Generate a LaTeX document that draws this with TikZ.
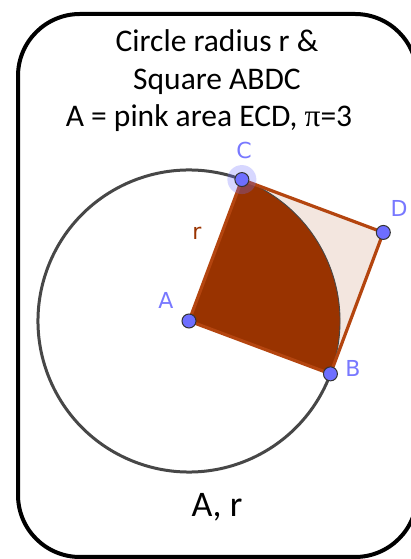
\documentclass[tikz,border=0pt]{standalone}
\usepackage{fontspec}
\setmainfont{Carlito}
\newfontfamily\lblfont{DejaVu Sans}
\newfontfamily\pifont{Liberation Serif}
\usetikzlibrary{calc}
\definecolor{darkfill}{HTML}{993300}
\definecolor{lightfill}{HTML}{F3E6DF}
\definecolor{edgec}{HTML}{B4450F}
\definecolor{ptblue}{HTML}{6E6EFF}
\definecolor{lblblue}{HTML}{7878FF}
\definecolor{circgray}{HTML}{474747}
\begin{document}
\begin{tikzpicture}[x=1pt,y=1pt,
  frame/.style={draw=black, line width=4pt, rounded corners=62pt},
  titletext/.style={font=\fontsize{31.5}{37}\selectfont, anchor=base, inner sep=0pt},
  bottomtext/.style={font=\fontsize{36}{40}\selectfont, anchor=base, inner sep=0pt},
  pt/.style={circle, fill=ptblue, draw=black!80, line width=1pt, inner sep=0pt, minimum size=14pt},
  halo/.style={circle, fill=ptblue, fill opacity=0.28, draw=none, inner sep=0pt, minimum size=29pt},
  lbl/.style={font=\lblfont\fontsize{22}{26}\selectfont, text=lblblue, inner sep=0pt},
  rlbl/.style={font=\lblfont\fontsize{22}{26}\selectfont, text=darkfill, inner sep=0pt},
  circline/.style={draw=circgray, line width=3pt},
  arcline/.style={draw=circgray, line width=0.9pt},
  sqedge/.style={draw=edgec, line width=3.2pt, line join=round}
]
\useasboundingbox (0,0) rectangle (411,559);
% frame
\draw[frame] (18,2) rectangle (417,545);
% geometry
\coordinate (A) at (189,238);
\coordinate (C) at ($(A)+(69.5:151)$);
\coordinate (B) at ($(A)+(-20.5:151)$);
\coordinate (D) at ($(B)+(C)-(A)$);
% square light fill
\fill[lightfill] (A) -- (B) -- (D) -- (C) -- cycle;
% dark quarter sector
\fill[darkfill] (A) -- (B) arc[start angle=-20.5, end angle=69.5, radius=151pt] -- cycle;
% arc inside square
\draw[arcline] (B) arc[start angle=-20.5, end angle=69.5, radius=151pt];
% outer circle arc
\draw[circline] (C) arc[start angle=69.5, end angle=339.5, radius=151pt];
% square outline
\draw[sqedge] (A) -- (B) -- (D) -- (C) -- cycle;
% points
\node[halo] (hC) at (C) {};
\node[pt] (pA) at (A) {};
\node[pt] (pB) at (B) {};
\node[pt] (pC) at (C) {};
\node[pt] (pD) at (D) {};
% labels
\node[lbl] (lC) at (244,409) {C};
\node[lbl] (lD) at (399,351) {D};
\node[lbl] (lA) at (166,259) {A};
\node[lbl] (lB) at (353,191) {B};
\node[rlbl] (lr) at (197,326) {r};
% texts
\node[titletext] (t1) at (217,507) {Circle radius r \&};
\node[titletext] (t2) at (217,469) {Square ABDC};
\node[titletext] (t3) at (209,432) {A = pink area ECD, {\pifont π}=3};
\node[bottomtext] (t4) at (217,42) {A, r};
\end{tikzpicture}
\end{document}
